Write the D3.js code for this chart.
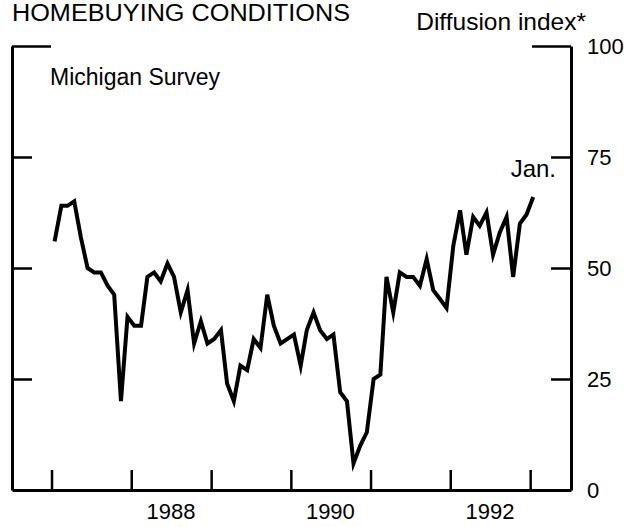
<head>
<meta charset="utf-8">
<style>
body {
  margin: 0;
  background: #fff;
  font-family: "Liberation Sans", Arial, sans-serif;
}
.axis path,
.axis line {
  fill: none;
  stroke: #000;
}
.axis text {
  font-family: "Liberation Sans", Arial, sans-serif;
  font-size: 22px;
  fill: #000;
}
.lbl {
  font-family: "Liberation Sans", Arial, sans-serif;
  fill: #000;
}
</style>
<script src="https://cdn.jsdelivr.net/npm/d3@7/dist/d3.min.js"></script>
</head>
<body>
<div id="chart"></div>
<script>

// monthly index values, Jan 1987 .. Jan 1993
var values1987 = [56, 64, 64, 65, 57, 50, 49, 49, 46, 44, 20, 39];
var values1988 = [37, 37, 48, 49, 47, 51, 48, 40, 45, 33, 38, 33];
var values1989 = [34, 36, 24, 20, 28, 27, 34, 32, 44, 37, 33, 34];
var values1990 = [35, 28, 36, 40, 36, 34, 35, 22, 20, 6, 10, 13];
var values1991 = [25, 26, 48, 40, 49, 48, 48, 46, 52, 45, 43, 41];
var values1992 = [55, 63, 53, 61.5, 59.5, 62.5, 53, 58, 61.5, 48, 60, 62];
var values1993 = [66];

var yTicks = [0, 25, 50, 75, 100];
var yearLabels = [1988, 1990, 1992];

var values = [].concat(values1987, values1988, values1989, values1990, values1991, values1992, values1993);
var months = d3.timeMonth.range(new Date(1987, 0, 1), new Date(1993, 1, 1));
var data = months.map(function(m, i) { return {date: d3.timeDay.offset(m, 14), value: values[i]}; });

var width = 641, height = 527;

var x = d3.scaleTime()
    .domain([new Date(1986, 6, 4), new Date(1993, 6, 7)])
    .range([12, 571]);

var y = d3.scaleLinear().domain([0, 100]).range([490, 46]);

var svg = d3.select("#chart").append("svg")
    .attr("width", width)
    .attr("height", height);

svg.append("text")
    .attr("class", "lbl")
    .attr("x", 12)
    .attr("y", 21)
    .attr("textLength", 338)
    .attr("lengthAdjust", "spacingAndGlyphs")
    .style("font-size", "23px")
    .text("HOMEBUYING CONDITIONS");

svg.append("text")
    .attr("class", "lbl")
    .attr("x", 586)
    .attr("y", 30)
    .attr("text-anchor", "end")
    .style("font-size", "24.5px")
    .text("Diffusion index*");

// left axis, ticks point inward, no labels
var left = svg.append("g")
    .attr("class", "axis")
    .attr("transform", "translate(12,0)")
    .call(d3.axisLeft(y).tickValues([25, 50, 75, 100]).tickSize(-20).tickSizeOuter(0).tickFormat(""));
left.select(".domain").attr("stroke-width", 3);
left.selectAll(".tick line")
    .attr("stroke-width", 2.5)
    .attr("x2", function(d) { return d == 100 ? 39 : 20; });

// right axis with labels
var right = svg.append("g")
    .attr("class", "axis")
    .attr("transform", "translate(571,0)")
    .call(d3.axisRight(y).tickValues(yTicks).tickSize(-20).tickSizeOuter(0).tickPadding(16));
right.attr("font-size", null).attr("font-family", null);
right.select(".domain").attr("stroke-width", 3);
right.selectAll(".tick line")
    .attr("stroke-width", 2.5)
    .attr("x2", function(d) { return d == 100 ? -39 : -20; });
right.selectAll(".tick text").attr("dy", "0.35em");

// bottom axis: year ticks, labels centred in the year
var bottom = svg.append("g")
    .attr("class", "axis")
    .attr("transform", "translate(0,490)")
    .call(d3.axisBottom(x).ticks(d3.timeYear.every(1)).tickSize(-20).tickSizeOuter(0).tickFormat(""));
bottom.select(".domain").attr("stroke-width", 3);
bottom.selectAll(".tick line").attr("stroke-width", 2.5);

svg.selectAll(".yearlbl")
    .data(yearLabels)
    .enter().append("text")
    .attr("class", "lbl")
    .attr("x", function(d) { return x(new Date(d, 6, 1)); })
    .attr("y", 519)
    .attr("text-anchor", "middle")
    .style("font-size", "22px")
    .text(function(d) { return d; });

var line = d3.line()
    .x(function(d) { return x(d.date); })
    .y(function(d) { return y(d.value); });

svg.append("path")
    .datum(data)
    .attr("fill", "none")
    .attr("stroke", "#000")
    .attr("stroke-width", 4)
    .attr("stroke-linejoin", "miter")
    .attr("stroke-miterlimit", 6)
    .attr("d", line);

svg.append("text")
    .attr("class", "lbl")
    .attr("x", 50)
    .attr("y", 85)
    .style("font-size", "23px")
    .text("Michigan Survey");

svg.append("text")
    .attr("class", "lbl")
    .attr("x", 556)
    .attr("y", 177)
    .attr("text-anchor", "end")
    .style("font-size", "24px")
    .text("Jan.");

</script>
</body>
